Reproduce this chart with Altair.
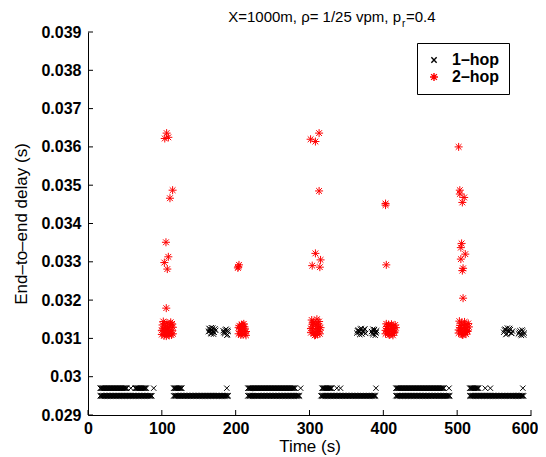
import altair as alt
import numpy as np
import pandas as pd

FONT = "Liberation Sans"
series_names = ["1\u2013hop", "2\u2013hop"]
x_ticks = [0, 100, 200, 300, 400, 500, 600]
y_ticks = [0.029, 0.030, 0.031, 0.032, 0.033, 0.034, 0.035, 0.036, 0.037, 0.038, 0.039]

# ---- 1-hop: two dense rows of packets (one per second inside each run) ----
hop1_low_level = 0.0295
hop1_low_runs = [(16.5, 87), (116, 190.5), (216.5, 287), (315.5, 390), (417, 490), (517, 590)]
hop1_high_level = 0.0297
hop1_high_runs = [(16.5, 53), (64, 79), (116, 127), (216.5, 281), (317, 330), (417, 482), (517, 529)]
hop1_high_single = [58, 89, 188, 288, 337, 342, 390, 489, 538, 545, 589]

# ---- 1-hop clusters near 0.0312 ----
hop1_c_t = [163, 165, 167, 169, 171, 173, 164, 166, 168, 170, 172, 165, 169, 167,
            183, 185, 187, 189, 190, 184, 186, 188, 185, 189,
            364, 366, 368, 370, 372, 374, 376, 365, 367, 369, 371, 373, 375, 368,
            384, 386, 388, 390, 391, 385, 387, 389, 386, 390,
            563, 565, 567, 569, 571, 573, 575, 564, 566, 568, 570, 572, 574,
            583, 585, 587, 589, 591, 584, 586, 588, 590]
hop1_c_v = [0.03118, 0.03124, 0.03112, 0.03127, 0.03116, 0.03121, 0.03126, 0.03114, 0.03122, 0.03111, 0.03125, 0.03119, 0.03117, 0.03128,
            0.03120, 0.03112, 0.03124, 0.03110, 0.03118, 0.03115, 0.03122, 0.03108, 0.03117, 0.03121,
            0.03114, 0.03122, 0.03110, 0.03126, 0.03117, 0.03123, 0.03113, 0.03120, 0.03116, 0.03124, 0.03111, 0.03119, 0.03125, 0.03118,
            0.03118, 0.03110, 0.03123, 0.03114, 0.03120, 0.03113, 0.03119, 0.03108, 0.03124, 0.03116,
            0.03116, 0.03124, 0.03112, 0.03121, 0.03126, 0.03114, 0.03119, 0.03122, 0.03110, 0.03127, 0.03117, 0.03123, 0.03113,
            0.03112, 0.03120, 0.03108, 0.03118, 0.03114, 0.03116, 0.03110, 0.03122, 0.03109]

# ---- 2-hop clusters near 0.0312 ----
hop2_c1_t = [100, 102, 104, 106, 108, 110, 112, 114, 115, 101, 103, 105, 107, 109, 111, 113, 100, 104, 108, 112, 115, 102, 106, 110, 114, 103, 109]
hop2_c1_v = [0.03110, 0.03125, 0.03138, 0.03115, 0.03130, 0.03108, 0.03142, 0.03120, 0.03112, 0.03135, 0.03107, 0.03128, 0.03140, 0.03118,
             0.03133, 0.03109, 0.03121, 0.03112, 0.03124, 0.03136, 0.03129, 0.03144, 0.03106, 0.03117, 0.03138, 0.03120, 0.03113]
hop2_c2_t = [204, 206, 208, 210, 212, 214, 205, 207, 209, 211, 213, 204, 208, 212, 206, 210, 214, 209]
hop2_c2_v = [0.03112, 0.03125, 0.03136, 0.03110, 0.03130, 0.03118, 0.03133, 0.03109, 0.03121, 0.03138, 0.03114, 0.03128, 0.03113,
             0.03125, 0.03119, 0.03131, 0.03108, 0.03135]
hop2_c3_t = [302, 304, 306, 308, 310, 312, 314, 315, 303, 305, 307, 309, 311, 313, 302, 306, 310, 314, 304, 308, 312, 305, 311]
hop2_c3_v = [0.03115, 0.03130, 0.03142, 0.03110, 0.03125, 0.03138, 0.03112, 0.03128, 0.03148, 0.03120, 0.03108, 0.03135, 0.03118,
             0.03144, 0.03126, 0.03113, 0.03150, 0.03122, 0.03137, 0.03109, 0.03132, 0.03140, 0.03111]
hop2_c4_t = [403, 405, 407, 409, 411, 413, 415, 417, 404, 406, 408, 410, 412, 414, 416, 403, 407, 411, 415, 405, 409, 413]
hop2_c4_v = [0.03112, 0.03126, 0.03136, 0.03110, 0.03122, 0.03133, 0.03115, 0.03128, 0.03138, 0.03118, 0.03109, 0.03130, 0.03114,
             0.03125, 0.03135, 0.03121, 0.03113, 0.03137, 0.03119, 0.03131, 0.03124, 0.03108]
hop2_c5_t = [502, 504, 506, 508, 510, 512, 514, 516, 503, 505, 507, 509, 511, 513, 515, 502, 506, 510, 514, 504, 508, 512]
hop2_c5_v = [0.03114, 0.03128, 0.03140, 0.03110, 0.03124, 0.03136, 0.03118, 0.03130, 0.03145, 0.03121, 0.03109, 0.03133, 0.03116,
             0.03127, 0.03139, 0.03122, 0.03112, 0.03143, 0.03120, 0.03134, 0.03126, 0.03111]

# ---- 2-hop outliers ----
hop2_out_t = [106.5, 104, 108.8, 114.6, 111, 105.6, 108.8, 103.4, 107.4, 106,
              203.5, 204.5, 203,
              313, 301.5, 308, 313, 308, 315, 303.7, 314,
              403, 403, 404,
              502, 503.6, 503.6, 509.5, 507, 506, 505, 511, 505, 507, 508,
              508]
hop2_out_v = [0.03636, 0.03622, 0.03625, 0.03487, 0.03466, 0.03351, 0.03313, 0.03298, 0.03281, 0.03179,
              0.03287, 0.03292, 0.03284,
              0.03636, 0.03620, 0.03614, 0.03485, 0.03322, 0.03305, 0.03290, 0.03286,
              0.03448, 0.03452, 0.03292,
              0.03600, 0.03487, 0.03477, 0.03468, 0.03455, 0.03348, 0.03337, 0.03320, 0.03307, 0.03277, 0.03283,
              0.03205]

# ---- assemble table ----
rows = []
for a, b in hop1_low_runs:
    for t in np.arange(a, b + 0.01, 1.0):
        rows.append((float(t), hop1_low_level, series_names[0]))
for a, b in hop1_high_runs:
    for t in np.arange(a, b + 0.01, 1.0):
        rows.append((float(t), hop1_high_level, series_names[0]))
for t in hop1_high_single:
    rows.append((t, hop1_high_level, series_names[0]))
for t, v in zip(hop1_c_t, hop1_c_v):
    rows.append((t, v, series_names[0]))
for ts, vs in [(hop2_c1_t, hop2_c1_v), (hop2_c2_t, hop2_c2_v), (hop2_c3_t, hop2_c3_v),
               (hop2_c4_t, hop2_c4_v), (hop2_c5_t, hop2_c5_v), (hop2_out_t, hop2_out_v)]:
    for t, v in zip(ts, vs):
        rows.append((t, v, series_names[1]))
df = pd.DataFrame(rows, columns=["t", "v", "series"])

X_PATH = "M-1,-1L1,1M-1,1L1,-1"
STAR_PATH = "M0,-1L0,1M-1,0L1,0M-0.72,-0.72L0.72,0.72M-0.72,0.72L0.72,-0.72"

W, H = 443, 383
xscale = alt.Scale(domain=[0, 600], nice=False)
yscale = alt.Scale(domain=[0.029, 0.039], nice=False, zero=False)

x_axis = alt.Axis(values=x_ticks, format="d", title="Time (s)", grid=False, ticks=False,
                  domainColor="black", labelFont=FONT, labelFontSize=16, labelFontWeight="bold",
                  labelColor="black", labelPadding=5, labelOverlap=False, labelFlush=False,
                  labelAlign={"condition": {"test": "datum.value == 600", "value": "right"}, "value": "center"},
                  labelOffset={"condition": {"test": "datum.value == 600", "value": 7}, "value": 0},
                  titleFont=FONT, titleFontSize=17,
                  titleFontWeight="normal", titleColor="black", titlePadding=2)
y_axis = alt.Axis(values=y_ticks, format=".3~f", title="End\u2013to\u2013end delay (s)", grid=False,
                  ticks=False, domainColor="black", labelFont=FONT, labelFontSize=16,
                  labelFontWeight="bold", labelColor="black", labelPadding=7,
                  labelOverlap=False, labelFlush=False,
                  titleFont=FONT, titleFontSize=17, titleFontWeight="normal",
                  titleColor="black", titlePadding=10)

legend = alt.Legend(title=None, orient="none", legendX=329, legendY=11,
                    strokeColor="black", fillColor="white", padding=9,
                    labelFont=FONT, labelFontSize=16, labelFontWeight="bold",
                    labelColor="black", symbolSize=60, symbolStrokeWidth=1.4,
                    labelOffset=10, rowPadding=1)

points = alt.Chart(df).mark_point(filled=False, strokeWidth=1, opacity=1).encode(
    x=alt.X("t:Q", scale=xscale, axis=x_axis),
    y=alt.Y("v:Q", scale=yscale, axis=y_axis),
    color=alt.Color("series:N", scale=alt.Scale(domain=series_names, range=["black", "red"]), legend=legend),
    shape=alt.Shape("series:N", scale=alt.Scale(domain=series_names, range=[X_PATH, STAR_PATH]), legend=legend),
    size=alt.Size("series:N", scale=alt.Scale(domain=series_names, range=[28, 64]), legend=None),
)

xt = alt.Chart(pd.DataFrame({"t": x_ticks})).mark_rule(color="black", strokeWidth=1).encode(
    x=alt.X("t:Q", scale=xscale, axis=x_axis), y=alt.value(H), y2=alt.value(H - 5))
yt = alt.Chart(pd.DataFrame({"v": y_ticks})).mark_rule(color="black", strokeWidth=1).encode(
    y=alt.Y("v:Q", scale=yscale, axis=y_axis), x=alt.value(0), x2=alt.value(5))

one = pd.DataFrame({"a": [0]})
title_main = alt.Chart(one).mark_text(font=FONT, fontSize=15, align="right", baseline="alphabetic",
                                      color="black").encode(
    x=alt.value(313), y=alt.value(-10), text=alt.value("X=1000m, \u03c1= 1/25 vpm, p"))
title_sub = alt.Chart(one).mark_text(font=FONT, fontSize=10, align="left", baseline="alphabetic",
                                     color="black").encode(
    x=alt.value(314), y=alt.value(-5), text=alt.value("r"))
title_end = alt.Chart(one).mark_text(font=FONT, fontSize=15, align="left", baseline="alphabetic",
                                     color="black").encode(
    x=alt.value(318), y=alt.value(-10), text=alt.value("=0.4"))

chart = alt.layer(points, xt, yt, title_main, title_sub, title_end).properties(
    width=W, height=H, autosize="none",
    padding={"left": 80, "top": 24, "right": 7, "bottom": 42},
    background="white",
).configure_view(stroke=None)

chart.save("out.html", embed_options={"renderer": "svg", "actions": False})
